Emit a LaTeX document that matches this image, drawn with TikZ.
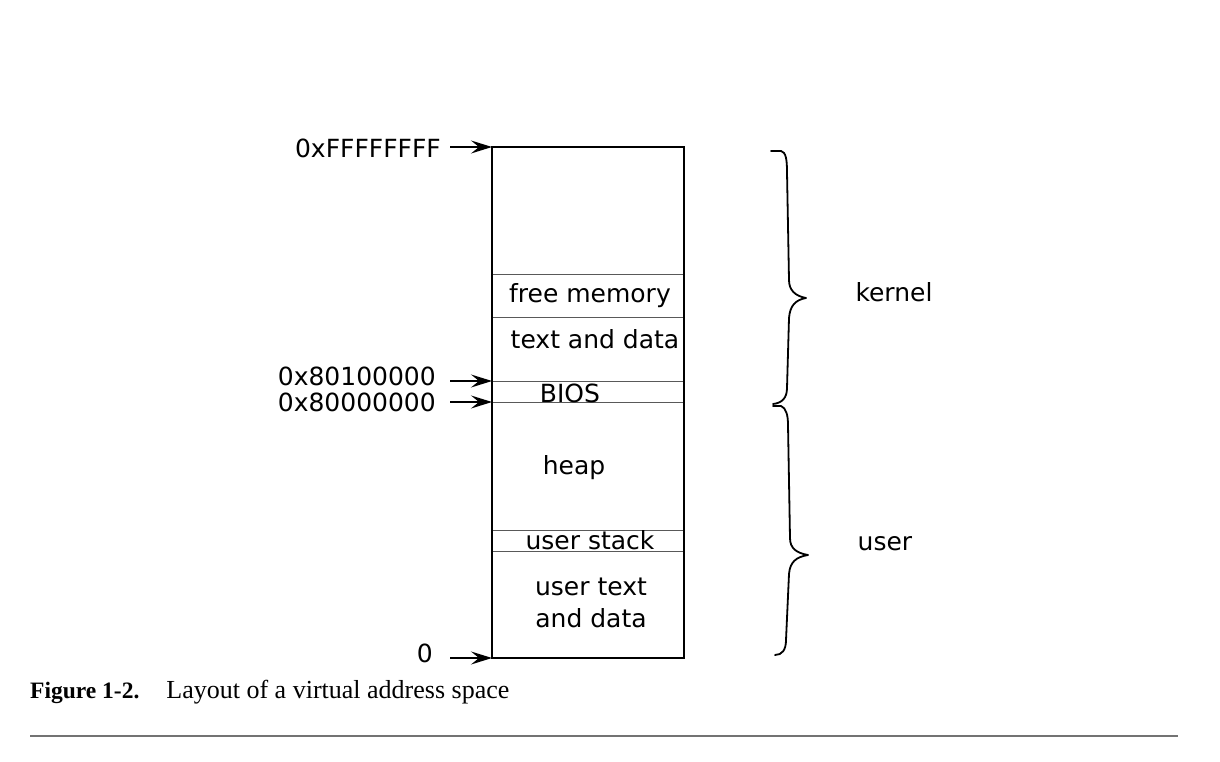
\documentclass[tikz,border=0pt]{standalone}
\usepackage{fontspec}
\usetikzlibrary{arrows.meta}
\newfontfamily\dv{DejaVu Sans}
\newfontfamily\capfont{Liberation Serif}
\begin{document}
\begin{tikzpicture}[x=1pt,y=-1pt,
  lbl/.style={font=\dv\fontsize{25}{30}\selectfont, inner sep=0pt},
  addr/.style={line width=1.2pt, -{Stealth[length=21pt,width=13pt,inset=8pt]}},
  divider/.style={draw=black!65, line width=1pt},
  outer/.style={draw=black, line width=1.8pt},
  bracestyle/.style={line width=1.8pt, line join=round, line cap=round}]
\useasboundingbox (0,0) rectangle (1220,762);
% box
\coordinate (bl) at (492,658);
\coordinate (tr) at (684,147);
\foreach \y/\n in {274/d1,317/d2,381/d3,402/d4,530/d5,551/d6}{
  \coordinate (\n l) at (492,\y);
  \coordinate (\n r) at (684,\y);
  \draw[divider] (\n l) -- (\n r);
}
\draw[outer] (bl) rectangle (tr);
% region labels
\node[lbl] (free) at (590,296) {free memory};
\node[lbl] (text) at (595,339) {text and data};
\node[lbl] (bios) at (570,393) {BIOS};
\node[lbl] (heap) at (574,468) {heap};
\node[lbl] (ustack) at (590,540) {user stack};
\node[lbl, align=center] (utext) at (591,603) {user text\\[2pt]and data};
% address labels and arrows
\node[lbl, anchor=east] (aF) at (441,148) {0xFFFFFFFF};
\node[lbl, anchor=east] (a81) at (436,376) {0x80100000};
\node[lbl, anchor=east] (a80) at (436,402) {0x80000000};
\node[lbl, anchor=east] (a0) at (433,653) {0};
\coordinate (sF) at (450,147); \coordinate (eF) at (492,147);
\coordinate (s81) at (450,381); \coordinate (e81) at (492,381);
\coordinate (s80) at (450,402); \coordinate (e80) at (492,402);
\coordinate (s0) at (450,658); \coordinate (e0) at (492,658);
\draw[addr] (sF) -- (eF);
\draw[addr] (s81) -- (e81);
\draw[addr] (s80) -- (e80);
\draw[addr] (s0) -- (e0);
% braces
\coordinate (k1) at (771,151);
\coordinate (kt) at (806,298);
\coordinate (k2) at (773,404);
\draw[bracestyle] (k1) -- (781,151) .. controls (786,152) and (787,160) .. (787,172)
  -- (789,280) .. controls (789,290) and (795,296) .. (kt)
  .. controls (795,300) and (790,306) .. (789,318)
  -- (787,388) .. controls (787,398) and (782,403) .. (k2);
\coordinate (u1) at (773,406);
\coordinate (ut) at (808,555);
\coordinate (u2) at (775,655);
\draw[bracestyle] (u1) -- (781,406) .. controls (786,408) and (788,415) .. (788,425)
  -- (790,538) .. controls (790,548) and (796,553) .. (ut)
  .. controls (796,557) and (790,562) .. (789,574)
  -- (786,640) .. controls (786,650) and (782,655) .. (u2);
\node[lbl] (kernel) at (894,292) {kernel};
\node[lbl] (user) at (885,544) {user};
% caption
\node[anchor=base west, inner sep=0pt] (cap) at (30,698)
  {{\capfont\bfseries\fontsize{23.5}{28}\selectfont Figure 1-2.}\hspace{27pt}{\capfont\fontsize{26}{30}\selectfont Layout of a virtual address space}};
\coordinate (r1) at (30,736); \coordinate (r2) at (1178,736);
\draw[black!55, line width=1.5pt] (r1) -- (r2);
\end{tikzpicture}
\end{document}
